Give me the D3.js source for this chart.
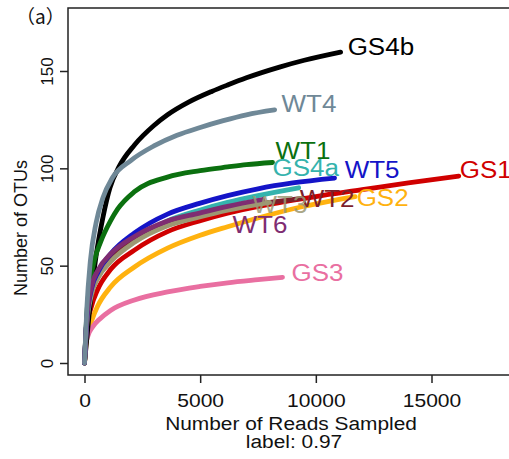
<!DOCTYPE html>
<html>
<head>
<meta charset="utf-8">
<script src="https://cdn.jsdelivr.net/npm/d3@7"></script>
<style>
  body { margin: 0; background: #fff; }
  svg { display: block; font-family: "Liberation Sans", Arial, sans-serif; }
</style>
</head>
<body>
<svg></svg>
<script>
// rarefaction curves, values: [reads sampled, OTUs]
let samples = ['GS1', 'GS2', 'GS3', 'GS4a', 'GS4b', 'WT1', 'WT2', 'WT3', 'WT5', 'WT6', 'WT4'];

let GS1 = [[0,0],[100,17],[300,29],[560,37.5],[1125,48],[2160,58],[3590,67.5],[4970,73],[6185,77],[8000,81.5],[10000,85.5],[12000,89],[14000,92.5],[16180,96]];
let GS2 = [[0,0],[100,13],[350,23],[560,29],[1125,39],[2160,49.3],[3590,59],[4970,65.5],[6185,70],[7500,74.5],[9300,80],[11700,85.5]];
let GS3 = [[0,0],[50,9],[150,14],[350,18.5],[650,22.5],[1125,27],[2160,32.4],[3590,36.5],[5000,39.3],[6185,41.2],[7500,42.8],[8560,44]];
let GS4a = [[0,0],[100,22],[300,37],[600,46],[1125,53],[2160,63.5],[3590,73],[4970,78.5],[6185,82.5],[7500,86],[9260,90]];
let GS4b = [[0,0],[200,25],[500,55],[800,75],[1100,90],[1500,101],[2160,112],[3000,122],[3590,127.5],[4500,134],[5500,139.5],[6185,142.8],[7000,146.5],[8430,152],[9500,155.5],[11070,159.7]];
let WT1 = [[0,0],[100,25],[260,43],[430,53],[690,62],[1125,73],[1430,79],[2160,88],[3590,95.5],[5000,98.8],[6185,100.7],[7000,101.9],[8130,103]];
let WT2 = [[0,0],[100,22],[300,38],[600,47],[1125,55],[2160,64],[3590,72],[4970,76],[6185,79],[7700,82],[9300,84.5]];
let WT3 = [[0,0],[100,20],[300,35],[600,44],[1125,52],[2160,62],[3590,70.5],[4970,75],[6185,78.5],[8000,82.5]];
let WT4 = [[0,0],[100,28],[250,52],[500,72],[800,85],[1200,95],[2000,104],[3000,111.5],[4000,117],[5000,121],[6000,124.5],[7000,127.5],[8220,130]];
let WT5 = [[0,0],[100,22],[300,38],[600,47],[1125,56],[2160,66.8],[3590,76.5],[4970,82],[6185,86],[7500,89.5],[9000,92.5],[10810,95]];
let WT6 = [[0,0],[100,23],[300,39],[600,48],[1125,56],[2160,65],[3590,73],[4970,77],[6185,80.5],[7700,84]];

// where each sample name sits (reads, OTUs)
let labelPos = {
  GS1: [16220, 99.1], GS2: [11765, 84.7], GS3: [8950, 46.2], GS4a: [8130, 100.2],
  GS4b: [11375, 162.3], WT1: [8260, 108.9], WT2: [9300, 84.2], WT3: [7265, 81.1],
  WT4: [8520, 133], WT5: [11245, 99.1], WT6: [6400, 70.9]
};

let xTicks = [0, 5000, 10000, 15000];
let yTicks = [0, 50, 100, 150];

let colors = {
  GS1: '#d00000', GS2: '#ffb20f', GS3: '#e96fa1', GS4a: '#35b3ad', GS4b: '#000000',
  WT1: '#0b700f', WT2: '#7d1f2b', WT3: '#9c9873', WT4: '#6f8897', WT5: '#1414c8', WT6: '#7f2d72'
};

let series = { GS1, GS2, GS3, GS4a, GS4b, WT1, WT2, WT3, WT4, WT5, WT6 };

let width = 509;
let height = 459;

const svg = d3.select('svg')
  .attr('width', width)
  .attr('height', height);

let xScale = d3.scaleLinear().domain([0, 15000]).range([84.5, 431.5]);
let yScale = d3.scaleLinear().domain([0, 150]).range([363, 71]);

// plot frame (right edge falls outside the picture)
svg.append('rect')
  .attr('x', 68)
  .attr('y', 8)
  .attr('width', 470)
  .attr('height', 367)
  .attr('fill', 'none')
  .attr('stroke', '#222')
  .attr('stroke-width', 1.5);

let line = d3.line()
  .x(d => xScale(d[0]))
  .y(d => yScale(d[1]))
  .curve(d3.curveMonotoneX);

svg.append('g')
  .selectAll('path')
  .data(samples)
  .enter()
  .append('path')
  .attr('d', s => line(series[s]))
  .attr('fill', 'none')
  .attr('stroke', s => colors[s])
  .attr('stroke-width', 4.8)
  .attr('stroke-linecap', 'round')
  .attr('stroke-linejoin', 'round');

svg.append('g')
  .selectAll('text')
  .data(samples)
  .enter()
  .append('text')
  .attr('transform', s => 'translate(' + xScale(labelPos[s][0]) + ',' + yScale(labelPos[s][1]) + ') scale(1.13,1)')
  .attr('dominant-baseline', 'central')
  .attr('font-size', 23)
  .attr('fill', s => colors[s])
  .attr('opacity', s => s === 'WT3' ? 0.85 : 1)
  .text(s => s);

// axes
let xAxis = d3.axisBottom(xScale).tickValues(xTicks).tickSize(8).tickPadding(11).tickFormat(d3.format('d'));
let gx = svg.append('g')
  .attr('transform', 'translate(0,375)')
  .call(xAxis);
gx.select('.domain').remove();
gx.selectAll('line').attr('stroke', '#222').attr('stroke-width', 1.5);
gx.selectAll('text')
  .attr('font-size', 18)
  .attr('fill', '#111')
  .attr('font-family', '"Liberation Sans", Arial, sans-serif')
  .attr('transform', 'scale(1.17,1)');

let yAxis = d3.axisLeft(yScale).tickValues(yTicks).tickSize(8).tickFormat(d3.format('d'));
let gy = svg.append('g')
  .attr('transform', 'translate(68,0)')
  .call(yAxis);
gy.select('.domain').remove();
gy.selectAll('line').attr('stroke', '#222').attr('stroke-width', 1.5);
gy.selectAll('text')
  .attr('font-size', 17)
  .attr('fill', '#111')
  .attr('font-family', '"Liberation Sans", Arial, sans-serif')
  .attr('x', 0)
  .attr('dy', 0)
  .attr('transform', 'translate(-15,0) rotate(-90)')
  .attr('text-anchor', 'middle');

// axis titles
svg.append('text')
  .attr('transform', 'translate(291,430) scale(1.16,1)')
  .attr('text-anchor', 'middle')
  .attr('font-size', 18)
  .attr('fill', '#111')
  .text('Number of Reads Sampled');

svg.append('text')
  .attr('transform', 'translate(294,448) scale(1.16,1)')
  .attr('text-anchor', 'middle')
  .attr('font-size', 18)
  .attr('fill', '#111')
  .text('label: 0.97');

svg.append('text')
  .attr('transform', 'translate(27,228) rotate(-90)')
  .attr('text-anchor', 'middle')
  .attr('font-size', 18)
  .attr('fill', '#111')
  .text('Number of OTUs');

svg.append('text')
  .attr('x', 16)
  .attr('y', 24)
  .attr('font-size', 19)
  .attr('font-family', '"Noto Sans CJK SC", sans-serif')
  .attr('fill', '#111')
  .text('（a）');
</script>
</body>
</html>
